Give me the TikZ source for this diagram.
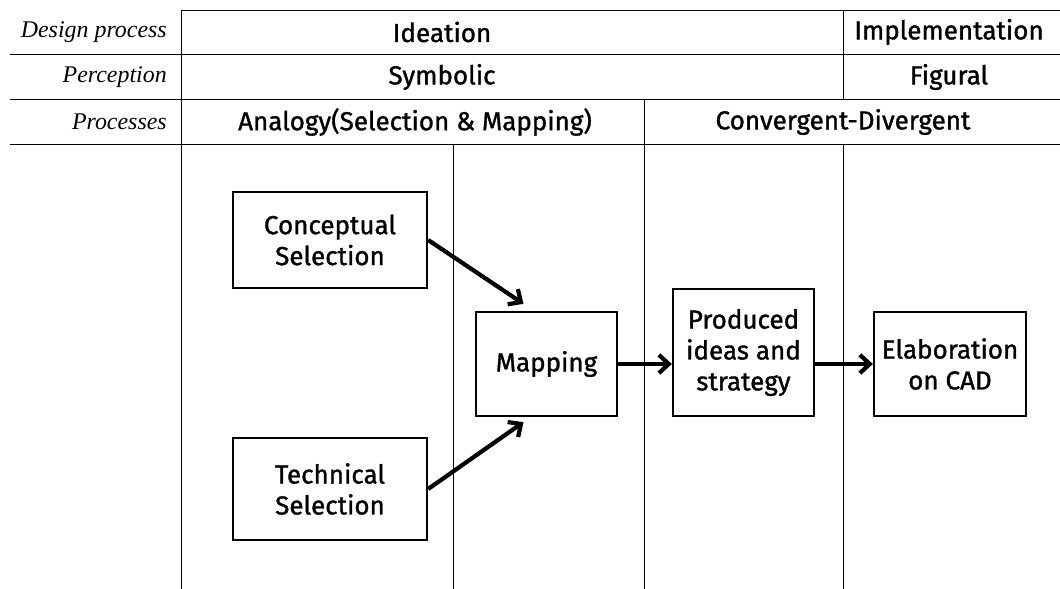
\documentclass[tikz,border=0pt]{standalone}
\usepackage{fontspec}
\setmainfont{Fira Sans}[FakeBold=1.2]
\newfontfamily\sansmed{Fira Sans}[FakeBold=1.2]
\newfontfamily\rowfont{Liberation Serif}
\usepackage{tikz}
\usetikzlibrary{positioning,calc,arrows.meta}

\tikzset{
    rowlabel/.style={anchor=east, inner sep=0pt, font=\rowfont\itshape\fontsize{17}{19}\selectfont},
    headtext/.style={font=\sansmed\fontsize{18.5}{21}\selectfont},
    stagebox/.style={draw, line width=1.6pt, align=center, inner sep=0pt,
        font=\sansmed\fontsize{18.5}{22}\selectfont},
    flow/.style={line width=3pt, -{Straight Barb[length=7pt,width=13pt]}},
    grid/.style={line width=0.6pt}
}

\begin{document}
\begin{tikzpicture}[x=0.025cm, y=-0.025cm]
    \useasboundingbox (0,0) rectangle (1060,589);

    % Table lines
    \draw[grid] (181,10) -- (1060,10);
    \draw[grid] (10,54) -- (1060,54);
    \draw[grid] (10,99) -- (1060,99);
    \draw[grid] (10,144) -- (1060,144);
    \draw[grid] (181,10) -- (181,589);
    \draw[grid] (843,10) -- (843,99);
    \draw[grid] (644,99) -- (644,589);
    \draw[grid] (843,144) -- (843,589);
    \draw[grid] (453,144) -- (453,589);

    % Row labels
    \node[rowlabel] (design) at (167,32) {Design process};
    \node[rowlabel] (percep) at (167,77) {Perception};
    \node[rowlabel] (procs) at (167,122) {Processes};

    % Header cells
    \node[headtext] (ideation) at (442,32) {Ideation};
    \node[headtext] (implem) at (949,32) {Implementation};
    \node[headtext] (symbolic) at (442,77) {Symbolic};
    \node[headtext] (figural) at (949,77) {Figural};
    \node[headtext] (analogy) at (415,122) {Analogy(Selection \& Mapping)};
    \node[headtext] (convdiv) at (843,122) {Convergent-Divergent};

    % Stages
    \node[stagebox, minimum width=4.85cm, minimum height=2.4cm] (concept) at (330,240) {Conceptual\\Selection};
    \node[stagebox, minimum width=4.85cm, minimum height=2.55cm] (tech) at (330,489) {Technical\\Selection};
    \node[stagebox, minimum width=3.525cm, minimum height=2.6cm] (mapping) at (546.5,364) {Mapping};
    \node[stagebox, minimum width=3.525cm, minimum height=3.175cm] (produced) at (743.5,352.5) {Produced\\ideas and\\strategy};
    \node[stagebox, minimum width=3.8cm, minimum height=2.6cm] (elab) at (950,364) {Elaboration\\on CAD};

    % Arrows
    \draw[flow] (concept.east) -- ($(mapping.north)+(-23,-7)$);
    \draw[flow] (tech.east) -- ($(mapping.south)+(-23,5)$);
    \draw[flow] (mapping.east) -- (mapping.east -| produced.west);
    \draw[flow] (elab.west -| produced.east) -- (elab.west);
\end{tikzpicture}
\end{document}
